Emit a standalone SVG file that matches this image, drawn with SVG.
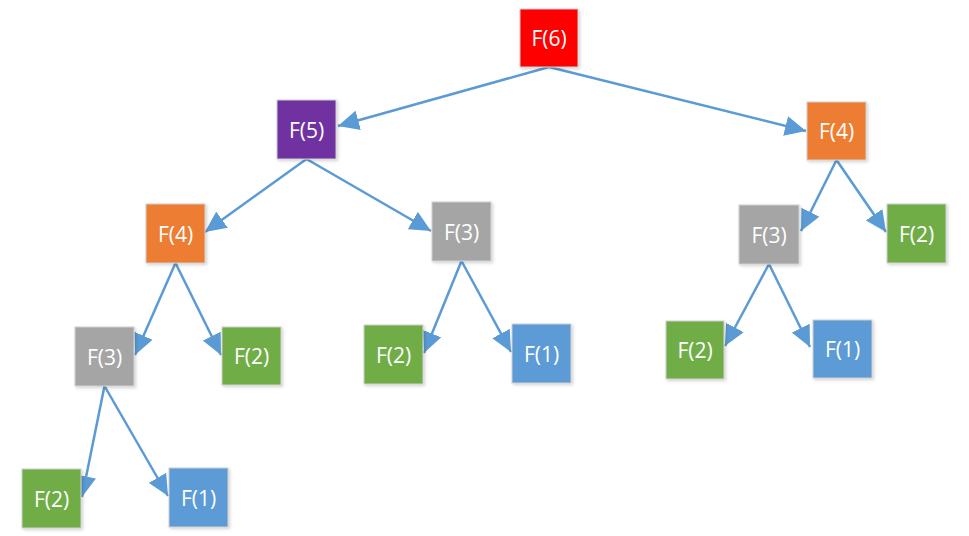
<svg xmlns="http://www.w3.org/2000/svg" width="969" height="536" viewBox="0 0 969 536">
<defs>
<marker id="ah" markerUnits="userSpaceOnUse" markerWidth="24" markerHeight="20" refX="21" refY="10" orient="auto">
<path d="M0,0 L21,10 L0,20 z" fill="#5B9BD5"/>
</marker>
<filter id="sh" x="-20%" y="-20%" width="150%" height="150%">
<feDropShadow dx="1.5" dy="1.5" stdDeviation="1.5" flood-color="#000" flood-opacity="0.18"/>
</filter>
<style>
.box{stroke:#d0d0d0;stroke-width:1;filter:url(#sh)}
.lbl{font-family:"Open Sans","Liberation Sans",sans-serif;font-size:21px;fill:#fff;text-anchor:middle;dominant-baseline:central}
.edge{stroke:#5B9BD5;stroke-width:2.5;fill:none;marker-end:url(#ah)}
</style>
</defs>
<rect width="969" height="536" fill="#fff"/>
<g id="connectors">
<line class="edge" x1="549" y1="67" x2="338" y2="126"/>
<line class="edge" x1="549" y1="67" x2="806" y2="131"/>
<line class="edge" x1="306.5" y1="159" x2="205" y2="232"/>
<line class="edge" x1="306.5" y1="159" x2="431" y2="231"/>
<line class="edge" x1="175.5" y1="263" x2="135" y2="355"/>
<line class="edge" x1="175.5" y1="263" x2="221" y2="355"/>
<line class="edge" x1="104.5" y1="386" x2="82" y2="497"/>
<line class="edge" x1="104.5" y1="386" x2="168" y2="496"/>
<line class="edge" x1="461.5" y1="261" x2="424" y2="353"/>
<line class="edge" x1="461.5" y1="261" x2="511" y2="352"/>
<line class="edge" x1="836.5" y1="160" x2="801" y2="231"/>
<line class="edge" x1="836.5" y1="160" x2="886" y2="232"/>
<line class="edge" x1="769" y1="264" x2="725" y2="346"/>
<line class="edge" x1="769" y1="264" x2="810" y2="347"/>
</g>
<g id="n6"><rect class="box" x="520" y="9" width="58" height="58" fill="#FF0000"/><text class="lbl" x="549" y="38">F(6)</text></g>
<g id="n5"><rect class="box" x="277" y="100" width="59" height="59" fill="#7030A0"/><text class="lbl" x="306.5" y="129.5">F(5)</text></g>
<g id="n4r"><rect class="box" x="807" y="102" width="59" height="58" fill="#ED7D31"/><text class="lbl" x="836.5" y="131">F(4)</text></g>
<g id="n4l"><rect class="box" x="146" y="204" width="59" height="59" fill="#ED7D31"/><text class="lbl" x="175.5" y="233.5">F(4)</text></g>
<g id="n3m"><rect class="box" x="432" y="202" width="59" height="59" fill="#A5A5A5"/><text class="lbl" x="461.5" y="231.5">F(3)</text></g>
<g id="n3r"><rect class="box" x="739" y="205" width="60" height="59" fill="#A5A5A5"/><text class="lbl" x="769" y="234.5">F(3)</text></g>
<g id="n2r"><rect class="box" x="887" y="204" width="59" height="59" fill="#70AD47"/><text class="lbl" x="916.5" y="233.5">F(2)</text></g>
<g id="n3l"><rect class="box" x="75" y="327" width="59" height="59" fill="#A5A5A5"/><text class="lbl" x="104.5" y="356.5">F(3)</text></g>
<g id="n2l"><rect class="box" x="222" y="327" width="59" height="58" fill="#70AD47"/><text class="lbl" x="251.5" y="356">F(2)</text></g>
<g id="n2m"><rect class="box" x="364" y="325" width="59" height="59" fill="#70AD47"/><text class="lbl" x="393.5" y="354.5">F(2)</text></g>
<g id="n1m"><rect class="box" x="512" y="324" width="59" height="59" fill="#5B9BD5"/><text class="lbl" x="541.5" y="353.5">F(1)</text></g>
<g id="n2rb"><rect class="box" x="666" y="321" width="58" height="58" fill="#70AD47"/><text class="lbl" x="695" y="350">F(2)</text></g>
<g id="n1rb"><rect class="box" x="813" y="320" width="59" height="58" fill="#5B9BD5"/><text class="lbl" x="842.5" y="349">F(1)</text></g>
<g id="n2b"><rect class="box" x="22" y="469" width="59" height="59" fill="#70AD47"/><text class="lbl" x="51.5" y="498.5">F(2)</text></g>
<g id="n1b"><rect class="box" x="169" y="468" width="59" height="59" fill="#5B9BD5"/><text class="lbl" x="198.5" y="497.5">F(1)</text></g>
</svg>
